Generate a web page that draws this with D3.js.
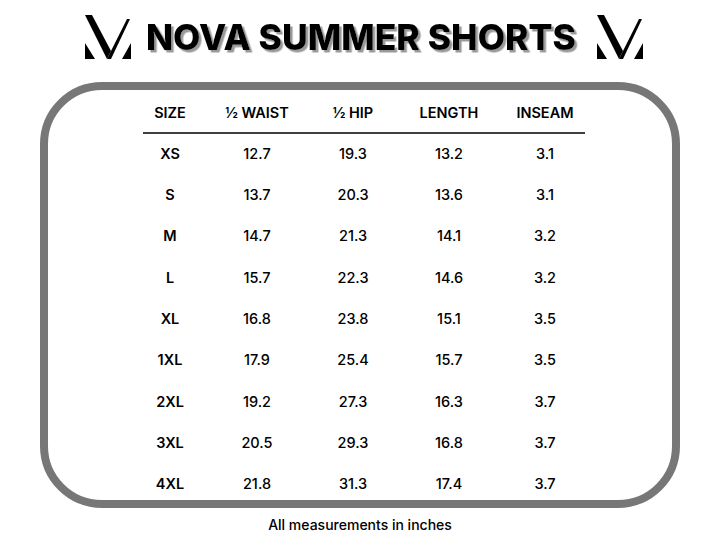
<!DOCTYPE html>
<html><head><meta charset="utf-8">
<script src="https://cdn.jsdelivr.net/npm/d3@7"></script>
<style>body{margin:0;background:#fff}</style></head>
<body><div id="chart"></div>
<script>
var columns = ["SIZE", "½ WAIST", "½ HIP", "LENGTH", "INSEAM"];
var sizes = ["XS", "S", "M", "L", "XL", "1XL", "2XL", "3XL", "4XL"];
var waist = ["12.7", "13.7", "14.7", "15.7", "16.8", "17.9", "19.2", "20.5", "21.8"];
var hip = ["19.3", "20.3", "21.3", "22.3", "23.8", "25.4", "27.3", "29.3", "31.3"];
var length = ["13.2", "13.6", "14.1", "14.6", "15.1", "15.7", "16.3", "16.8", "17.4"];
var inseam = ["3.1", "3.1", "3.2", "3.2", "3.5", "3.5", "3.7", "3.7", "3.7"];

var svg = d3.select("#chart").append("svg")
  .attr("width", 720).attr("height", 556);
var font = "Inter, 'Open Sans', sans-serif";

var f = svg.append("defs").append("filter").attr("id", "sh")
  .attr("x", "-5%").attr("y", "-20%").attr("width", "110%").attr("height", "140%");
f.append("feDropShadow").attr("dx", 2.5).attr("dy", 2.5).attr("stdDeviation", 0.3)
  .attr("flood-color", "#999");

// frame
svg.append("rect")
  .attr("x", 44).attr("y", 86).attr("width", 632).attr("height", 418)
  .attr("rx", 58).attr("fill", "#fff")
  .attr("stroke", "#777").attr("stroke-width", 8);

svg.append("text")
  .attr("x", 361).attr("y", 50)
  .attr("text-anchor", "middle")
  .attr("font-family", font).attr("font-weight", 800)
  .attr("font-size", 35.5).attr("fill", "#000")
  .attr("filter", "url(#sh)")
  .text("NOVA SUMMER SHORTS");

// logos
function logo(x) {
  var g = svg.append("g").attr("transform", "translate(" + x + ",15)");
  g.append("polygon").attr("points", "0,0 7,0 26,36 22,44").attr("fill", "#000");
  g.append("polygon").attr("points", "22,44 42,4 45,4 26,44").attr("fill", "#000");
  g.append("polygon").attr("points", "0,28 10,44 0,44").attr("fill", "#000");
  g.append("polygon").attr("points", "46,28 46,44 37,44").attr("fill", "#000");
}
logo(85);
logo(597);

var x = d3.scaleOrdinal().domain(columns).range([170, 257, 353, 449, 545]);
var y = d3.scaleBand().domain(sizes).range([133, 505]);

svg.append("g").selectAll("text").data(columns).enter().append("text")
  .attr("x", d => x(d)).attr("y", 118)
  .attr("text-anchor", "middle")
  .attr("font-family", font).attr("font-weight", 600).attr("font-size", 14.5)
  .text(d => d);

svg.append("line")
  .attr("x1", 143).attr("x2", 585).attr("y1", 133).attr("y2", 133)
  .attr("stroke", "#000").attr("stroke-width", 1.5);

var series = [sizes, waist, hip, length, inseam];
series.forEach(function(vals, ci) {
  svg.append("g").selectAll("text").data(vals).enter().append("text")
    .attr("x", x(columns[ci]))
    .attr("y", (d, i) => y(sizes[i]) + y.bandwidth() / 2 + 5)
    .attr("text-anchor", "middle")
    .attr("font-family", font).attr("font-weight", ci === 0 ? 600 : 500)
    .attr("font-size", 14.5)
    .text(d => d);
});

svg.append("text")
  .attr("x", 360).attr("y", 530).attr("text-anchor", "middle")
  .attr("font-family", font).attr("font-weight", 500).attr("font-size", 14)
  .text("All measurements in inches");
</script></body></html>
